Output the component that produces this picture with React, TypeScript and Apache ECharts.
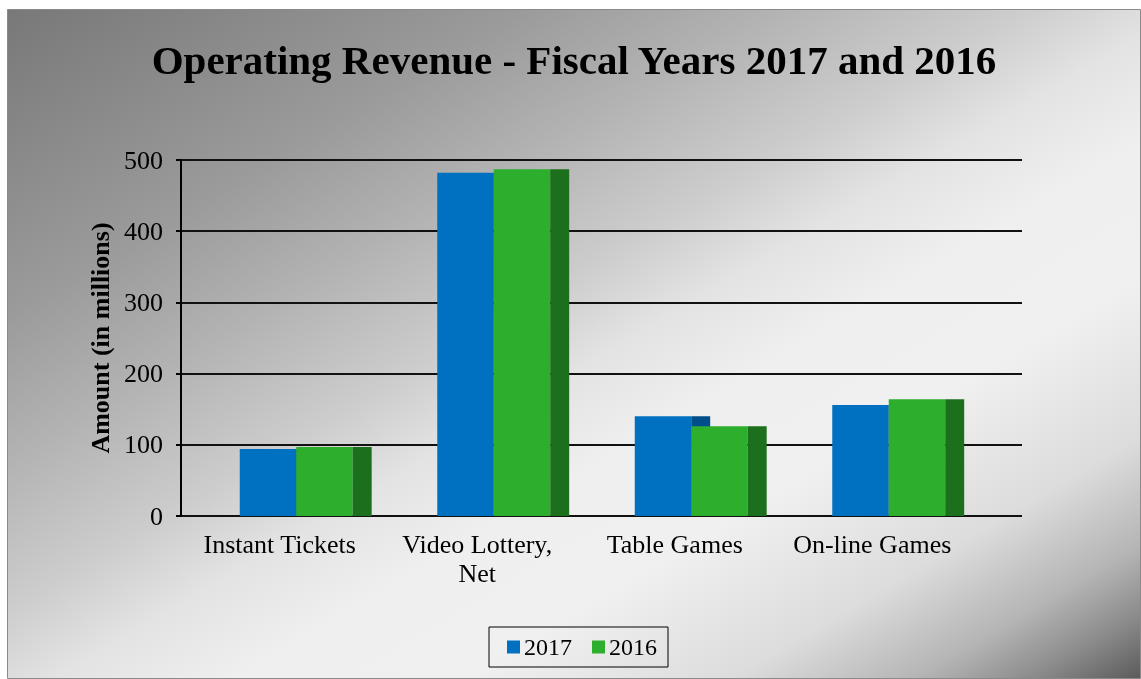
import React, { useEffect, useRef } from "react";
import * as echarts from "echarts";

const categories = ["Instant Tickets", "Video Lottery, Net", "Table Games", "On-line Games"];
const seriesNames = ["2017", "2016"];
const values2017 = [94, 482, 140, 156];
const values2016 = [97, 487, 126, 164];
const yTicks = [0, 100, 200, 300, 400, 500];

const FONT = '"Liberation Serif", "Times New Roman", serif';
const W = 1134;
const H = 670;

const colors = {
  front2017: "#0070C0",
  side2017: "#004F8A",
  front2016: "#2DAE2D",
  side2016: "#1C6F1C",
};

function makeRender(seriesIndex: number, front: string, side: string) {
  return (params: any, api: any) => {
    const idx = api.value(0);
    const val = api.value(1);
    const top = api.coord([idx, val]);
    const base = api.coord([idx, 0]);
    const band = api.size([1, 0])[0];
    const fw = 0.286 * band;
    const sw = 0.096 * band;
    const x0 = top[0] - 0.2025 * band + seriesIndex * fw;
    const h = base[1] - top[1];
    return {
      type: "group",
      children: [
        { type: "rect", shape: { x: x0, y: top[1], width: fw, height: h }, style: { fill: front } },
        { type: "rect", shape: { x: x0 + fw, y: top[1], width: sw, height: h }, style: { fill: side } },
      ],
    };
  };
}

export default function App() {
  const ref = useRef<HTMLDivElement>(null);
  useEffect(() => {
    if (!ref.current) return;
    const chart = echarts.init(ref.current, null, { renderer: "svg" });
    const gridTop = 151;
    const gridBottom = 163;
    const yMin = yTicks[0];
    const yMax = yTicks[yTicks.length - 1];
    const interval = yTicks[1] - yTicks[0];
    // gradient whose isolines run parallel to the bottom-left -> top-right diagonal
    const k = (2 * W * H) / (W * W + H * H);
    const bg = new echarts.graphic.LinearGradient(
      0,
      0,
      H * k,
      W * k,
      [
        { offset: 0, color: "#787878" },
        { offset: 0.23, color: "#9b9b9b" },
        { offset: 0.34, color: "#b3b3b3" },
        { offset: 0.45, color: "#cdcdcd" },
        { offset: 0.52, color: "#e3e3e3" },
        { offset: 0.6, color: "#efefef" },
        { offset: 0.7, color: "#f0f0f0" },
        { offset: 0.82, color: "#dcdcdc" },
        { offset: 0.9, color: "#b5b5b5" },
        { offset: 0.95, color: "#8c8c8c" },
        { offset: 1, color: "#5a5a5a" },
      ],
      true
    );
    chart.setOption({
      animation: false,
      backgroundColor: "transparent",
      graphic: [
        {
          type: "rect",
          z: -100,
          silent: true,
          shape: { x: 0.5, y: 0.5, width: W - 1, height: H - 1 },
          style: {
            fill: bg,
            stroke: "#8a8a8a",
            lineWidth: 1,
          },
        },
      ],
      title: {
        text: "Operating Revenue - Fiscal Years 2017 and 2016",
        left: "center",
        top: 25,
        textStyle: { fontFamily: FONT, fontSize: 41, fontWeight: "bold", color: "#000", lineHeight: 41 },
      },
      legend: {
        data: seriesNames,
        left: 482,
        top: 618,
        orient: "horizontal",
        padding: [8, 11, 8, 18],
        itemGap: 20,
        itemWidth: 13,
        itemHeight: 13,
        borderColor: "#000",
        borderWidth: 1,
        icon: "rect",
        textStyle: { fontFamily: FONT, fontSize: 24, color: "#000", padding: [0, 0, 0, -1] },
      },
      grid: [
        { left: 174, right: 170, top: gridTop, bottom: gridBottom },
        { left: 174, right: 119, top: gridTop, bottom: gridBottom },
      ],
      xAxis: [
        {
          type: "category",
          gridIndex: 0,
          data: categories,
          axisLine: { show: false },
          axisTick: { show: false },
          splitLine: { show: false },
          axisLabel: {
            interval: 0,
            margin: 14,
            fontFamily: FONT,
            fontSize: 26,
            lineHeight: 29,
            color: "#000",
            formatter: (v: string) => v.replace(", ", ",\n"),
          },
        },
        {
          type: "value",
          gridIndex: 1,
          min: 0,
          max: 1,
          show: false,
        },
      ],
      yAxis: [
        {
          type: "value",
          gridIndex: 0,
          min: yMin,
          max: yMax,
          interval,
          show: false,
        },
        {
          type: "value",
          gridIndex: 1,
          min: yMin,
          max: yMax,
          interval,
          name: "Amount (in millions)",
          nameLocation: "middle",
          nameRotate: 90,
          nameGap: 66,
          nameTextStyle: { fontFamily: FONT, fontSize: 26, fontWeight: "bold", color: "#000" },
          axisLine: { show: true, lineStyle: { color: "#000", width: 2 } },
          axisTick: { show: true, length: 5, inside: false, lineStyle: { color: "#000", width: 2 } },
          axisLabel: { margin: 18, fontFamily: FONT, fontSize: 26, color: "#000" },
          splitLine: { show: true, lineStyle: { color: "#111", width: 2 } },
        },
      ],
      series: [
        {
          name: seriesNames[0],
          type: "custom",
          xAxisIndex: 0,
          yAxisIndex: 0,
          itemStyle: { color: colors.front2017 },
          encode: { x: 0, y: 1 },
          data: values2017.map((v, i) => [i, v]),
          renderItem: makeRender(0, colors.front2017, colors.side2017),
        },
        {
          name: seriesNames[1],
          type: "custom",
          xAxisIndex: 0,
          yAxisIndex: 0,
          itemStyle: { color: colors.front2016 },
          encode: { x: 0, y: 1 },
          data: values2016.map((v, i) => [i, v]),
          renderItem: makeRender(1, colors.front2016, colors.side2016),
        },
      ],
    });
    return () => chart.dispose();
  }, []);
  return (
    <div
      ref={ref}
      style={{ position: "fixed", left: 7, top: 9, width: W, height: H }}
    />
  );
}
